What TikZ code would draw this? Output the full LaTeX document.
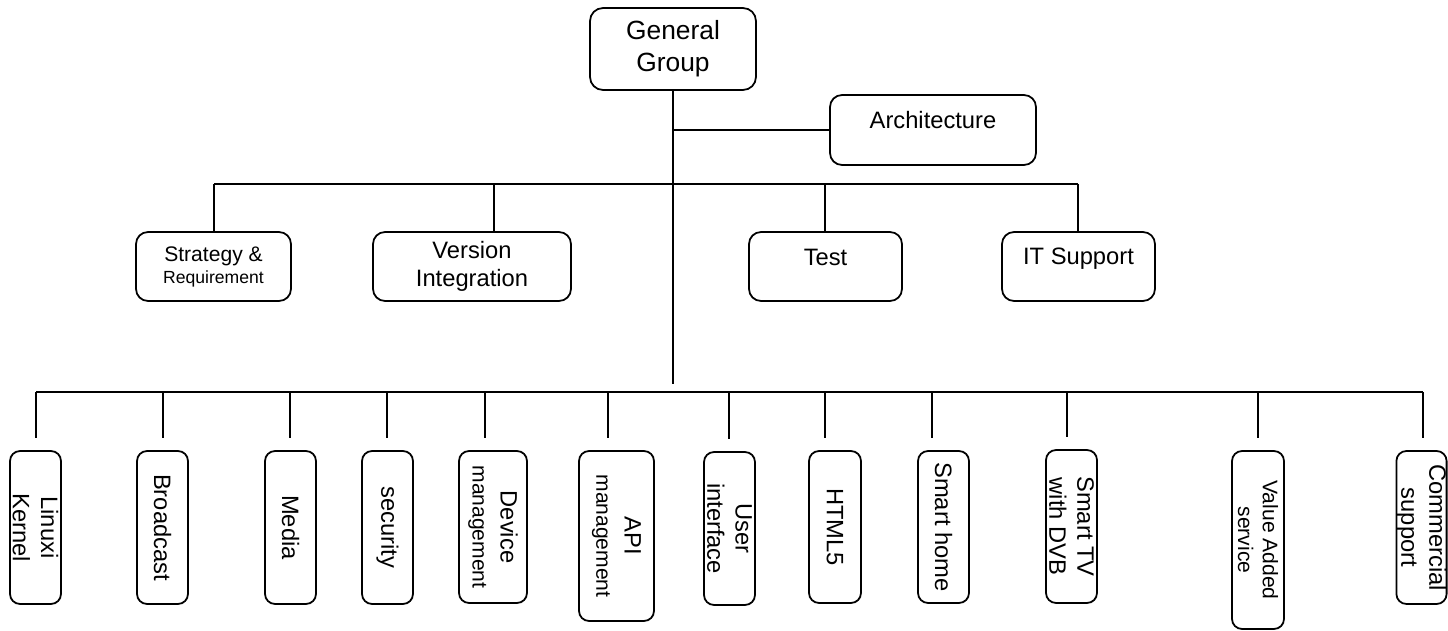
\documentclass[tikz,border=0pt]{standalone}
\usepackage{fontspec}
\setmainfont{Liberation Sans}
\usepackage{tikz}
\usetikzlibrary{calc}

\begin{document}
\begin{tikzpicture}[
      x=0.02cm, y=-0.02cm,
      line width=1pt,
      box/.style ={draw, rounded corners=0.24cm, align=center, inner sep=0pt, minimum height=1.38cm, font=\fontsize{13.5}{16}\selectfont},
      leaf/.style ={draw, rounded corners=0.2cm, rotate=-90, align=center, inner sep=0pt, minimum width=3.06cm, minimum height=1.02cm, font=\fontsize{13.5}{16}\selectfont},
      small/.style ={font=\fontsize{12}{14}\selectfont}
    ]
    \useasboundingbox [fill=white] (0,0) rectangle (1448,631) ;

    \node [box, minimum width=3.32cm, minimum height=1.64cm, rounded corners=0.26cm, font=\fontsize{15}{18}\selectfont] (gg) at (673,49) {General\\Group} ;
    \node [box, minimum width=4.12cm, minimum height=1.4cm, text depth=0.4cm] (arch) at (933,130) {Architecture} ;

    \node [box, minimum width=3.1cm, font=\fontsize{12}{12.5}\selectfont] (sr) at (213.5,266.5) {Strategy \&\\{\fontsize{10}{12}\selectfont Requirement}} ;
    \node [box, minimum width=3.96cm] (vi) at (472,266.5) {Version\\Integration} ;
    \node [box, minimum width=3.06cm, text depth=0.36cm] (test) at (825.5,266.5) {Test} ;
    \node [box, minimum width=3.06cm, text depth=0.42cm] (its) at (1078.5,266.5) {IT Support} ;

    \node [leaf] (lk) at (35.5,527.5) {Linuxi\\Kernel} ;
    \node [leaf] (bc) at (162.5,527.5) {Broadcast} ;
    \node [leaf] (md) at (290.5,527.5) {Media} ;
    \node [leaf] (sec) at (387.5,527.5) {security} ;
    \node [leaf, minimum width=3.04cm, minimum height=1.36cm] (dev) at (493,527) {Device\\{\fontsize{12}{14}\selectfont management}} ;
    \node [leaf, minimum width=3.4cm, minimum height=1.5cm] (api) at (616.5,536) {API\\{\fontsize{12}{14}\selectfont management}} ;
    \node [leaf] (ui) at (729.5,528.5) {User\\interface} ;
    \node [leaf, minimum width=3.04cm, minimum height=1.04cm] (html) at (835,527) {HTML5} ;
    \node [leaf, minimum width=3.04cm] (sh) at (943.5,527) {Smart home} ;
    \node [leaf] (stv) at (1071.5,526.5) {Smart TV\\with DVB} ;
    \node [leaf, small, minimum width=3.56cm, minimum height=1.04cm] (vas) at (1258,540) {Value Added\\service} ;
    \node [leaf, minimum height=0.96cm] (cs) at (1421.5,527.5) {Commercial\\support} ;

    \coordinate (trunk) at (673,384) ;
    \draw (gg.south) -- (trunk) ;
    \draw (arch.west) -- (arch.west -| gg.south) ;

    \foreach \n/\x in {sr/214, vi/494, test/825, its/1078}
      \coordinate (u-\n) at (\x,184) ;
    \draw (u-sr) -- (u-its) ;
    \foreach \n in {sr, vi, test, its}
      \draw (u-\n) -- (u-\n |- \n.north) ;

    \foreach \n/\x in {lk/36, bc/163, md/290, sec/387, dev/485, api/608, ui/729, html/825, sh/932, stv/1067, vas/1258, cs/1423}
      \coordinate (d-\n) at (\x,392) ;
    \draw (d-lk) -- (d-cs) ;
    \foreach \n in {lk, bc, md, sec, dev, api, ui, html, sh, stv, vas, cs}
      \draw [shorten >=0.24cm] (d-\n) -- (d-\n |- \n.west) ;
  \end{tikzpicture}
\end{document}
